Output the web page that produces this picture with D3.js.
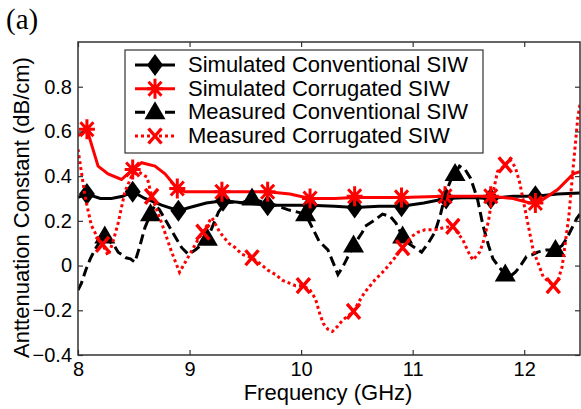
<!DOCTYPE html>
<html>
<head>
<meta charset="utf-8">
<script src="https://cdn.jsdelivr.net/npm/d3@7"></script>
<style>
  body { margin: 0; background: #fff; }
  text { font-family: "Liberation Sans", Arial, sans-serif; fill: #000; }
</style>
</head>
<body>
<div id="chart"></div>
<script>
const width = 581;
const height = 409;

// ---- data (frequency GHz, attenuation dB/cm) ----
const simConvLine = [
  [8.0, 0.305], [8.08, 0.32], [8.2, 0.30], [8.3, 0.30], [8.4, 0.31], [8.49, 0.33],
  [8.6, 0.30], [8.75, 0.27], [8.9, 0.245], [9.0, 0.26], [9.15, 0.28], [9.3, 0.29],
  [9.5, 0.28], [9.7, 0.27], [9.9, 0.27], [10.08, 0.27], [10.3, 0.265], [10.48, 0.26],
  [10.7, 0.265], [10.9, 0.265], [11.1, 0.28], [11.3, 0.30], [11.5, 0.305], [11.7, 0.30],
  [11.9, 0.31], [12.1, 0.31], [12.3, 0.32], [12.5, 0.325]
];
const simConvMarks = [
  [8.08, 0.32], [8.49, 0.33], [8.9, 0.245], [9.3, 0.29], [9.7, 0.27], [10.08, 0.27],
  [10.48, 0.26], [10.9, 0.265], [11.3, 0.30], [11.7, 0.30], [12.1, 0.31]
];

const simCorrLine = [
  [8.0, 0.58], [8.08, 0.61], [8.18, 0.445], [8.27, 0.41], [8.39, 0.385], [8.49, 0.43],
  [8.57, 0.46], [8.69, 0.445], [8.78, 0.41], [8.89, 0.345], [8.96, 0.33], [9.29, 0.33],
  [9.7, 0.33], [9.9, 0.32], [10.08, 0.30], [10.3, 0.30], [10.48, 0.305], [10.9, 0.305],
  [11.29, 0.31], [11.7, 0.31], [11.9, 0.30], [12.05, 0.28], [12.15, 0.29], [12.3, 0.34],
  [12.44, 0.41], [12.5, 0.42]
];
const simCorrMarks = [
  [8.08, 0.61], [8.49, 0.43], [8.89, 0.345], [9.29, 0.33], [9.7, 0.33], [10.08, 0.30],
  [10.48, 0.31], [10.9, 0.305], [11.29, 0.31], [11.7, 0.31], [12.1, 0.28]
];

const measConvLine = [
  [8.0, -0.11], [8.03, -0.08], [8.07, -0.02], [8.11, 0.03], [8.15, 0.07], [8.2, 0.11],
  [8.24, 0.13], [8.28, 0.11], [8.33, 0.085], [8.36, 0.06], [8.39, 0.05], [8.43, 0.035],
  [8.47, 0.03], [8.51, 0.015], [8.55, 0.08], [8.6, 0.17], [8.65, 0.23], [8.69, 0.27],
  [8.73, 0.25], [8.8, 0.19], [8.87, 0.13], [8.93, 0.08], [8.99, 0.05], [9.05, 0.07],
  [9.1, 0.09], [9.16, 0.12], [9.21, 0.18], [9.26, 0.24], [9.32, 0.28], [9.4, 0.285],
  [9.47, 0.28], [9.56, 0.30], [9.65, 0.285], [9.77, 0.27], [9.88, 0.25], [9.96, 0.24],
  [10.04, 0.23], [10.1, 0.17], [10.16, 0.11], [10.24, 0.07], [10.29, 0.01], [10.33, -0.04],
  [10.38, 0.0], [10.42, 0.04], [10.47, 0.09], [10.55, 0.15], [10.57, 0.175], [10.65, 0.2],
  [10.73, 0.23], [10.8, 0.22], [10.85, 0.19], [10.91, 0.13], [10.96, 0.1], [11.02, 0.08],
  [11.08, 0.06], [11.14, 0.1], [11.2, 0.15], [11.25, 0.23], [11.3, 0.33], [11.34, 0.38],
  [11.38, 0.41], [11.42, 0.445], [11.47, 0.43], [11.52, 0.39], [11.58, 0.30], [11.63, 0.18],
  [11.68, 0.09], [11.72, 0.03], [11.78, -0.01], [11.83, -0.04], [11.87, -0.05], [11.92, -0.03],
  [11.96, -0.005], [12.02, 0.04], [12.08, 0.05], [12.12, 0.06], [12.2, 0.07], [12.28, 0.07],
  [12.34, 0.09], [12.38, 0.12], [12.44, 0.18], [12.47, 0.21], [12.5, 0.23]
];
const measConvMarks = [
  [8.24, 0.13], [8.65, 0.23], [9.16, 0.12], [9.56, 0.30], [10.04, 0.23],
  [10.47, 0.09], [10.91, 0.13], [11.38, 0.41], [11.83, -0.04], [12.28, 0.07]
];

const measCorrLine = [
  [8.0, 0.52], [8.03, 0.42], [8.06, 0.32], [8.08, 0.27], [8.12, 0.18], [8.17, 0.13],
  [8.22, 0.095], [8.27, 0.045], [8.31, 0.1], [8.36, 0.19], [8.42, 0.33], [8.48, 0.40],
  [8.54, 0.42], [8.62, 0.395], [8.66, 0.31], [8.75, 0.19], [8.84, 0.06], [8.91, -0.03],
  [8.99, 0.04], [9.08, 0.12], [9.12, 0.15], [9.18, 0.2], [9.2, 0.215], [9.27, 0.15],
  [9.35, 0.10], [9.41, 0.08], [9.47, 0.05], [9.56, 0.035], [9.63, 0.01], [9.7, -0.02],
  [9.77, -0.04], [9.83, -0.065], [9.9, -0.08], [9.95, -0.09], [10.02, -0.09], [10.08, -0.11],
  [10.13, -0.15], [10.17, -0.22], [10.2, -0.26], [10.24, -0.285], [10.28, -0.295], [10.33, -0.27],
  [10.37, -0.245], [10.42, -0.225], [10.47, -0.205], [10.52, -0.16], [10.57, -0.12], [10.66, -0.065],
  [10.75, -0.02], [10.84, 0.035], [10.91, 0.08], [10.99, 0.13], [11.05, 0.15], [11.11, 0.16],
  [11.2, 0.16], [11.28, 0.17], [11.36, 0.175], [11.45, 0.115], [11.5, 0.06], [11.54, 0.025],
  [11.6, 0.06], [11.63, 0.10], [11.68, 0.2], [11.71, 0.30], [11.76, 0.42], [11.83, 0.45],
  [11.87, 0.475], [11.92, 0.44], [11.96, 0.37], [12.02, 0.22], [12.08, 0.07], [12.17, -0.05],
  [12.26, -0.09], [12.3, -0.07], [12.34, -0.005], [12.4, 0.22], [12.44, 0.445], [12.48, 0.66],
  [12.5, 0.72]
];
const measCorrMarks = [
  [8.22, 0.095], [8.66, 0.31], [9.12, 0.15], [9.56, 0.035], [10.02, -0.09],
  [10.47, -0.205], [10.91, 0.08], [11.36, 0.175], [11.83, 0.45], [12.26, -0.09]
];

const xTicks = [8, 9, 10, 11, 12];
const yTicks = [-0.4, -0.2, 0, 0.2, 0.4, 0.6, 0.8];
const legendLabels = [
  "Simulated Conventional SIW",
  "Simulated Corrugated SIW",
  "Measured Conventional SIW",
  "Measured Corrugated SIW"
];

// ---- layout ----
const plot = { left: 78, right: 580, top: 42, bottom: 355 };

const x = d3.scaleLinear().domain([8, 12.5]).range([plot.left, plot.right]);
const y = d3.scaleLinear().domain([-0.4, 1.0]).range([plot.bottom, plot.top]);

const svg = d3.select("#chart").append("svg")
  .attr("width", width)
  .attr("height", height);

svg.append("defs").append("clipPath").attr("id", "clip")
  .append("rect")
  .attr("x", plot.left).attr("y", plot.top)
  .attr("width", plot.right - plot.left).attr("height", plot.bottom - plot.top);

// marker shapes
function marker(g, type, color) {
  if (type === "diamond") {
    g.append("path").attr("d", "M0,-11L8,0L0,11L-8,0Z").attr("fill", "#000");
  } else if (type === "triangle") {
    g.append("path").attr("d", "M0,-11L10.5,7L-10.5,7Z").attr("fill", "#000");
  } else if (type === "star") {
    g.append("path")
      .attr("d", "M0,-10L0,10M-8,0L8,0M-6.5,-7L6.5,7M-6.5,7L6.5,-7")
      .attr("stroke", color).attr("stroke-width", 3).attr("fill", "none");
  } else if (type === "cross") {
    g.append("path")
      .attr("d", "M-6.5,-7.5L6.5,7.5M-6.5,7.5L6.5,-7.5")
      .attr("stroke", color).attr("stroke-width", 3.4).attr("fill", "none");
  }
}

const series = [
  { line: simConvLine, marks: simConvMarks, color: "#000", dash: null, type: "diamond" },
  { line: simCorrLine, marks: simCorrMarks, color: "#ff0000", dash: null, type: "star" },
  { line: measConvLine, marks: measConvMarks, color: "#000", dash: "10,5", type: "triangle" },
  { line: measCorrLine, marks: measCorrMarks, color: "#ff0000", dash: "3,3", type: "cross" }
];

const line = d3.line().x(d => x(d[0])).y(d => y(d[1]));

const dataG = svg.append("g").attr("clip-path", "url(#clip)");

series.forEach(s => {
  dataG.append("path")
    .datum(s.line)
    .attr("d", line)
    .attr("fill", "none")
    .attr("stroke", s.color)
    .attr("stroke-width", 3)
    .attr("stroke-dasharray", s.dash);
  s.marks.forEach(m => {
    const g = dataG.append("g").attr("transform", `translate(${x(m[0])},${y(m[1])})`);
    marker(g, s.type, s.color);
  });
});

// axes box with inward ticks on all sides
const axisColor = "#333";
const tickLen = 5;

const xAxisB = d3.axisBottom(x).tickValues(xTicks).tickSizeInner(-tickLen).tickSizeOuter(0)
  .tickPadding(7).tickFormat(d3.format("d"));
const xAxisT = d3.axisTop(x).tickValues(xTicks).tickSizeInner(-tickLen).tickSizeOuter(0)
  .tickFormat("");
const yAxisL = d3.axisLeft(y).tickValues(yTicks).tickSizeInner(-tickLen).tickSizeOuter(0)
  .tickPadding(6).tickFormat(d => d === 0 ? "0" : d3.format(".1f")(d));
const yAxisR = d3.axisRight(y).tickValues(yTicks).tickSizeInner(-tickLen).tickSizeOuter(0)
  .tickFormat("");

function styleAxis(g) {
  g.select(".domain").remove();
  g.selectAll(".tick line").attr("stroke", axisColor).attr("stroke-width", 1.2);
  g.selectAll(".tick text")
    .style("font-family", "'Liberation Sans', Arial, sans-serif")
    .style("font-size", "20px")
    .attr("fill", "#000");
}

svg.append("g").attr("transform", `translate(0,${plot.bottom})`).call(xAxisB).call(styleAxis);
svg.append("g").attr("transform", `translate(0,${plot.top})`).call(xAxisT).call(styleAxis);
svg.append("g").attr("transform", `translate(${plot.left},0)`).call(yAxisL).call(styleAxis);
svg.append("g").attr("transform", `translate(${plot.right},0)`).call(yAxisR).call(styleAxis);

svg.append("rect")
  .attr("x", plot.left).attr("y", plot.top)
  .attr("width", plot.right - plot.left).attr("height", plot.bottom - plot.top)
  .attr("fill", "none").attr("stroke", axisColor).attr("stroke-width", 1.5);

// axis labels
svg.append("text")
  .attr("x", (plot.left + plot.right) / 2 - 1)
  .attr("y", 400)
  .attr("text-anchor", "middle")
  .style("font-size", "22px")
  .text("Frequency (GHz)");

svg.append("text")
  .attr("transform", `translate(29,${(plot.top + plot.bottom) / 2 + 9}) rotate(-90)`)
  .attr("text-anchor", "middle")
  .style("font-size", "22px")
  .text("Anttenuation Constant (dB/cm)");

svg.append("text")
  .attr("x", 6).attr("y", 29)
  .style("font-family", "'Liberation Serif', 'Times New Roman', serif")
  .style("font-size", "29px")
  .text("(a)");

// legend
const legend = svg.append("g");
legend.append("rect")
  .attr("x", 125).attr("y", 50).attr("width", 358).attr("height", 103)
  .attr("fill", "#fff").attr("stroke", axisColor).attr("stroke-width", 1.2);

const rowY = d3.scalePoint().domain(legendLabels).range([72, 143]);

legendLabels.forEach((lab, i) => {
  const s = series[i];
  const cy = rowY(lab) - 7;
  legend.append("line")
    .attr("x1", 135).attr("x2", 175).attr("y1", cy).attr("y2", cy)
    .attr("stroke", s.color).attr("stroke-width", 3)
    .attr("stroke-dasharray", s.dash);
  marker(legend.append("g").attr("transform", `translate(155,${cy})`), s.type, s.color);
  legend.append("text")
    .attr("x", 188).attr("y", rowY(lab))
    .style("font-size", "22px")
    .text(lab);
});
</script>
</body>
</html>
